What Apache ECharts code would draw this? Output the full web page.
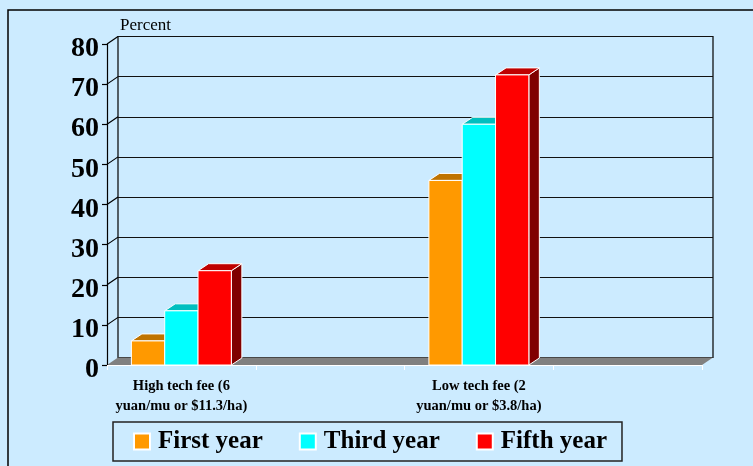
<!DOCTYPE html>
<html>
<head>
<meta charset="utf-8">
<script src="https://cdn.jsdelivr.net/npm/echarts@6/dist/echarts.min.js"></script>
<style>
  html, body { margin: 0; padding: 0; background: #CCEBFF; }
  #chart { width: 753px; height: 466px; }
</style>
</head>
<body>
<div id="chart"></div>
<script>
// Adoption rate by fee level, percent of households
const categories = ['High tech fee (6\nyuan/mu or $11.3/ha)', '', 'Low tech fee (2\nyuan/mu or $3.8/ha)', ''];
const seriesNames = ['First year', 'Third year', 'Fifth year'];
const firstYear = [6, null, 46, null];
const thirdYear = [13.5, null, 60, null];
const fifthYear = [23.5, null, 72.3, null];
const yTicks = [0, 10, 20, 30, 40, 50, 60, 70, 80];

const FONT = "'Liberation Serif', 'Times New Roman', serif";
const DX = 11, DY = -7.5;          // depth offset of the back wall
const BDX = 10.5, BDY = -7;        // depth offset of the bars
const BAR_RATIO = 0.224;           // bar width as share of a category band

const frontColors = ['#FF9900', '#00FFFF', '#FF0000'];
const topColors = ['#BF7300', '#00BFBF', '#BF0000'];
const sideColors = ['#804C00', '#008080', '#800000'];

function makeBarRenderer(idx) {
  return function (params, api) {
    const v = api.value(1);
    if (v == null || isNaN(v)) return null;
    const cat = api.value(0);
    const base = api.coord([cat, 0]);
    const top = api.coord([cat, v]);
    const bw = api.size([1, 0])[0] * BAR_RATIO;
    const x0 = base[0] + (idx - 1) * bw - bw / 2;
    const x1 = x0 + bw;
    const yT = top[1], yB = base[1];
    return {
      type: 'group',
      children: [
        {
          type: 'polygon',
          shape: { points: [[x1, yT], [x1 + BDX, yT + BDY], [x1 + BDX, yB + BDY], [x1, yB]] },
          style: { fill: sideColors[idx], stroke: '#fff', lineWidth: 1 }
        },
        {
          type: 'polygon',
          shape: { points: [[x0, yT], [x1, yT], [x1 + BDX, yT + BDY], [x0 + BDX, yT + BDY]] },
          style: { fill: topColors[idx], stroke: '#fff', lineWidth: 1 }
        },
        {
          type: 'rect',
          shape: { x: x0, y: yT, width: bw, height: yB - yT },
          style: { fill: frontColors[idx], stroke: '#fff', lineWidth: 1 }
        }
      ]
    };
  };
}

// Floor and the side-wall connectors between front axis and back wall
function renderFrame(params, api) {
  const cs = params.coordSys;
  const v = api.value(1);
  const y = api.coord([0, v])[1];
  const children = [];
  if (v === 0) {
    children.push({
      type: 'polygon',
      shape: { points: [[cs.x, y], [cs.x + cs.width, y], [cs.x + cs.width + DX, y + DY], [cs.x + DX, y + DY]] },
      style: { fill: '#808080' }
    });
  } else {
    children.push({
      type: 'line',
      shape: { x1: cs.x, y1: y, x2: cs.x + DX, y2: y + DY },
      style: { stroke: '#000', lineWidth: 1.2 }
    });
  }
  return { type: 'group', children: children };
}

const valueSets = [firstYear, thirdYear, fifthYear];

const barSeries = seriesNames.map((name, i) => ({
  name: name,
  type: 'custom',
  xAxisIndex: 0,
  yAxisIndex: 0,
  z: 4,
  renderItem: makeBarRenderer(i),
  itemStyle: { color: frontColors[i], borderColor: '#fff', borderWidth: 1 },
  data: categories.map((c, k) => [k, valueSets[i][k]])
}));

const chart = echarts.init(document.getElementById('chart'));
chart.setOption({
  animation: false,
  backgroundColor: '#CCEBFF',
  title: {
    text: 'Percent',
    left: 115,
    top: 12,
    textStyle: { fontFamily: FONT, fontSize: 17, fontWeight: 'normal', color: '#000' }
  },
  graphic: [{
    type: 'rect',
    shape: { x: 8, y: 10, width: 800, height: 500 },
    style: { fill: 'none', stroke: '#000', lineWidth: 1.5 },
    z: -1
  }],
  legend: {
    data: seriesNames,
    left: 113,
    top: 422,
    icon: 'rect',
    itemWidth: 16,
    itemHeight: 16,
    itemGap: 36,
    padding: [7, 15, 7, 20],
    borderColor: '#222',
    borderWidth: 1.5,
    textStyle: { fontFamily: FONT, fontSize: 25, fontWeight: 'bold', color: '#000', padding: [0, 0, 0, 3] }
  },
  grid: [
    { left: 107, right: 51, top: 44, bottom: 101 },
    { left: 118, right: 40, top: 36.5, bottom: 108.5, show: true, borderColor: '#000', borderWidth: 1.2, backgroundColor: 'transparent' }
  ],
  xAxis: [
    {
      gridIndex: 0,
      type: 'category',
      data: categories,
      z: 6,
      axisLine: { lineStyle: { color: '#fff', width: 1.2 } },
      axisTick: { show: true, length: 5, lineStyle: { color: '#fff' } },
      axisLabel: {
        margin: 11,
        interval: 0,
        fontFamily: FONT,
        fontSize: 14.5,
        fontWeight: 'bold',
        color: '#000',
        lineHeight: 20
      }
    },
    { gridIndex: 1, type: 'category', data: categories, show: false }
  ],
  yAxis: [
    {
      gridIndex: 0,
      type: 'value',
      min: 0,
      max: 80,
      interval: 10,
      z: 6,
      axisLine: { show: true, lineStyle: { color: '#000', width: 1.2 } },
      axisTick: { show: true, length: 5, lineStyle: { color: '#000', width: 1.2 } },
      splitLine: { show: false },
      axisLabel: {
        margin: 8,
        formatter: '{v|{value}}',
        rich: {
          v: {
            padding: [10, 0, 0, 0],
            fontFamily: FONT,
            fontSize: 28,
            fontWeight: 'bold',
            color: '#000'
          }
        }
      }
    },
    {
      gridIndex: 1,
      type: 'value',
      min: 0,
      max: 80,
      interval: 10,
      axisLine: { show: false },
      axisTick: { show: false },
      axisLabel: { show: false },
      splitLine: { show: true, lineStyle: { color: '#111', width: 1.2 } }
    }
  ],
  series: [
    {
      name: 'frame',
      type: 'custom',
      xAxisIndex: 0,
      yAxisIndex: 0,
      z: 3,
      silent: true,
      renderItem: renderFrame,
      data: yTicks.map(t => [0, t])
    }
  ].concat(barSeries)
});
</script>
</body>
</html>
